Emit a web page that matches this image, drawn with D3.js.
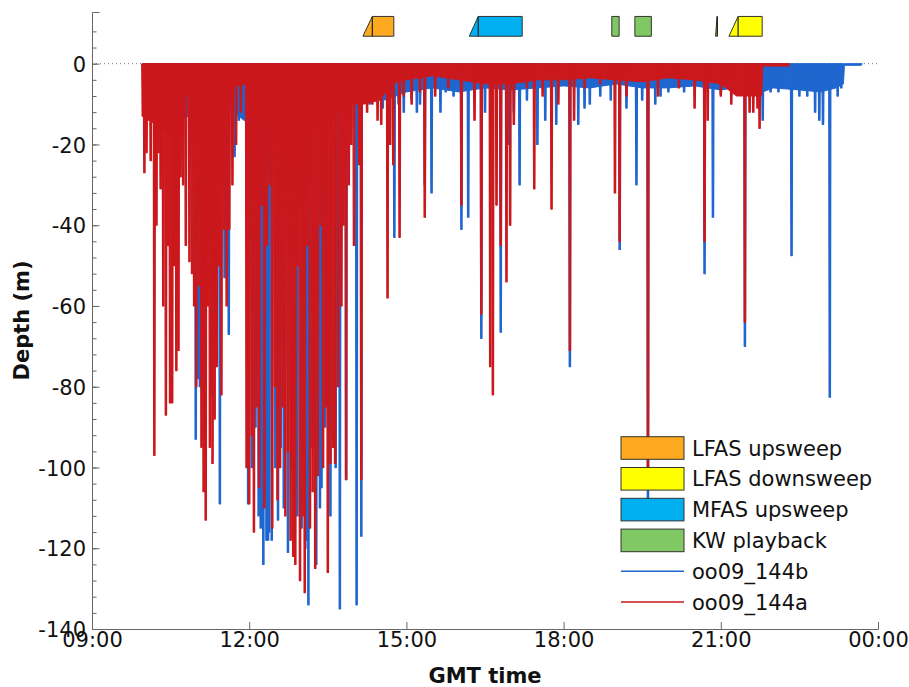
<!DOCTYPE html>
<html>
<head>
<meta charset="utf-8">
<script src="https://cdn.jsdelivr.net/npm/d3@7"></script>
<style>
  body { margin: 0; background: #fff; }
  text { font-family: "DejaVu Sans", Verdana, sans-serif; }
</style>
</head>
<body>
<div id="chart"></div>
<script>
// chart size
var svgWidth = 909;
var svgHeight = 687;
var margin = { top: 12, right: 31, bottom: 58, left: 92 };
var width = svgWidth - margin.left - margin.right;
var height = svgHeight - margin.top - margin.bottom;

// time in decimal GMT hours, depth in metres (negative = below surface)
var hourTicks = [9, 12, 15, 18, 21, 24];
var depthTicks = [-140, -120, -100, -80, -60, -40, -20, 0];

// exposures: [ramp start, full level start, end]
var lfasUp = [[14.17, 14.35, 14.76]];
var lfasDown = [[20.90, 20.93, 20.935], [21.155, 21.33, 21.79]];
var mfasUp = [[16.20, 16.37, 17.21]];
var kwPlayback = [[18.92, 18.92, 19.06], [19.36, 19.36, 19.675]];

// oo09_144b : frequent shallow diving (envelope) and single dives
var blueBand = [[9.97,-10],[10.5,-15],[11.0,-12],[11.5,-10],[11.7,-12],[12.0,-15],[13.0,-15],[13.9,-6],
  [14.1,-5],[14.3,-8],[14.6,-9],[15.0,-7],[15.5,-6],[16.0,-7],[16.5,-6],[17.0,-6.5],[17.5,-6],[18.0,-5.5],
  [18.5,-6],[19.0,-5],[19.5,-6],[20.0,-6],[20.5,-5.5],[21.0,-6.5],[21.5,-5.5],[21.8,-7],[22.0,-6],
  [22.5,-6.5],[22.9,-7],[23.2,-6],[23.34,-5],[23.36,-0.4],[23.68,-0.4],[23.7,0]];
var blueDives = [[10.98,-93],[11.03,-78],[11.06,-80],[11.14,-92],[11.28,-82],[11.44,-109],[11.53,-53],
  [11.61,-67],[11.72,-23],[11.80,-14],[11.88,-12],[11.98,-109],[12.05,-100],[12.12,-90],[12.18,-112],
  [12.22,-115],[12.27,-124],[12.31,-108],[12.33,-118],[12.36,-118],[12.38,-116],[12.43,-118],[12.50,-100],
  [12.55,-113],[12.60,-95],[12.66,-110],[12.74,-121],[12.80,-100],[12.90,-105],[12.92,-112],[13.00,-115],
  [13.07,-120],[13.10,-118],[13.13,-134],[13.20,-95],[13.28,-124],[13.35,-110],[13.38,-105],[13.45,-90],
  [13.55,-112],[13.65,-100],[13.73,-135],[13.85,-103],[13.95,-10],[14.05,-134],
  [14.14,-117],[14.2,-6],[14.3,-10],[14.4,-9],[14.55,-11],[14.77,-43],[14.85,-10],[14.95,-12],[15.1,-9],
  [15.2,-12],[15.26,-10],[15.35,-30],[15.48,-32],[15.65,-12],[15.75,-7],[15.9,-8],[16.05,-41],[16.18,-38],
  [16.3,-9],[16.43,-68],[16.5,-12],[16.8,-66.5],[16.95,-20],[17.05,-12],[17.16,-30],[17.3,-9],[17.5,-20],
  [17.65,-14],[17.86,-15],[18.12,-75],[18.28,-15],[18.4,-11],[18.5,-10],[18.7,-8],[18.9,-9],[19.07,-46],
  [19.2,-11],[19.39,-30],[19.5,-9],[19.61,-110],[19.75,-10],[19.85,-8],[20.0,-7],[20.3,-7],[20.69,-52],
  [20.85,-38],[21.0,-7.5],[21.2,-8],[21.46,-70],[21.8,-14],[21.95,-7],[22.1,-7],[22.35,-47.5],[22.5,-8],
  [22.65,-8],[22.8,-12],[22.88,-14],[22.95,-15],[23.08,-82.6],[23.23,-8],[23.3,-6]];

// oo09_144a
var redBand = [[9.96,-1],[9.97,-13],[10.1,-14],[10.3,-16],[10.6,-18],[10.7,-8],[10.84,-8],[10.86,-20],
  [10.95,-18],[11.2,-12],[11.45,-8],[11.6,-6],[11.93,-5],[11.95,-12],[12.5,-15],[13.0,-18],[13.5,-14],
  [13.8,-10],[14.2,-10],[14.5,-9],[14.72,-5],[15.0,-4],[15.5,-3],[16.0,-4],[16.5,-5],[17.0,-5],[17.5,-4],
  [18.0,-4],[18.5,-3.5],[19.0,-4],[19.5,-4.5],[20.0,-3.5],[20.5,-4],[21.0,-5],[21.3,-8],[21.5,-8],
  [21.78,-8],[21.8,-0.6],[22.3,-0.6],[22.31,0]];
var redDives = [[9.97,-13],[10.0,-27],[10.04,-22],[10.08,-14],[10.12,-24],[10.19,-97],[10.23,-40],
  [10.27,-22],[10.31,-31],[10.36,-60],[10.41,-87],[10.45,-45],[10.49,-84],[10.53,-84],[10.57,-50],
  [10.61,-76],[10.65,-71],[10.69,-28],
  [10.74,-30],[10.79,-45],[10.86,-49],[10.91,-52],[10.95,-60],[10.99,-80],[11.04,-55],[11.09,-95],
  [11.13,-106],[11.17,-113],[11.21,-60],[11.25,-95],[11.30,-99],[11.34,-88],[11.38,-75],[11.42,-50],
  [11.47,-82],[11.52,-41],[11.57,-60],[11.62,-41],[11.68,-30],[11.75,-20],[11.84,-12],
  [11.95,-100],[12.00,-109],[12.05,-92],[12.09,-116],[12.14,-85],[12.19,-105],[12.24,-35],[12.29,-110],
  [12.34,-45],[12.39,-30],[12.44,-115],[12.49,-80],[12.54,-108],[12.59,-100],[12.64,-85],[12.69,-112],
  [12.74,-96],[12.79,-118],[12.84,-122],[12.88,-124],[12.93,-50],[12.97,-128],[13.02,-112],[13.06,-131],
  [13.11,-45],[13.16,-115],[13.21,-106],[13.26,-125],[13.31,-102],[13.36,-40],[13.41,-100],[13.46,-85],
  [13.50,-126],[13.55,-99],[13.60,-95],[13.64,-99],[13.70,-80],[13.76,-60],[13.80,-40],[13.85,-103],
  [13.90,-30],[13.95,-20],[14.00,-45],[14.10,-25],[14.14,-103],[14.25,-12],[14.35,-10],[14.45,-14],
  [14.52,-15],[14.64,-58],[14.69,-20],[14.75,-25],[14.87,-43],[14.95,-8],[15.1,-10],[15.26,-7],
  [15.35,-38],[15.55,-8],[15.8,-6],[16.05,-35],[16.3,-14],[16.43,-62],[16.6,-75],[16.65,-82],[16.72,-35],
  [16.8,-45],[16.91,-54],[16.98,-40],[17.05,-15],[17.3,-6],[17.44,-31],[17.6,-8],[17.77,-36],[17.9,-10],
  [18.12,-71],[18.2,-14],[18.4,-6],[18.7,-5],[18.98,-32],[19.07,-44],[19.2,-8],[19.61,-103],[19.8,-8],
  [20.2,-6],[20.5,-11],[20.69,-44],[20.75,-14],[21.0,-8],[21.2,-10],[21.46,-64],[21.55,-12],[21.62,-12],
  [21.7,-11],[21.74,-16]];

var blueColor = "#1f66cf";
var redColor = "#cb181d";
var exposureStyles = [
  { name: "LFAS upsweep", color: "#fdaa20", data: lfasUp },
  { name: "LFAS downsweep", color: "#ffff00", data: lfasDown },
  { name: "MFAS upsweep", color: "#00b0f0", data: mfasUp },
  { name: "KW playback", color: "#7fc863", data: kwPlayback }
];

var svg = d3.select("#chart")
  .append("svg")
  .attr("width", svgWidth)
  .attr("height", svgHeight);

var chartGroup = svg.append("g")
  .attr("transform", `translate(${margin.left}, ${margin.top})`);

var x = d3.scaleLinear().domain([9, 24]).range([0, width]);
var y = d3.scaleLinear().domain([-140, 12.8]).range([height, 0]);

// surface reference line
chartGroup.append("line")
  .attr("x1", 0).attr("x2", width)
  .attr("y1", y(0)).attr("y2", y(0))
  .attr("stroke", "#777")
  .attr("stroke-width", 1)
  .attr("stroke-dasharray", "1,3");

// draws one animal: shallow envelope as area, then each dive as a narrow spike
function drawTag(band, dives, color) {
  var area = d3.area()
    .x(d => x(d[0]))
    .y0(y(0))
    .y1(d => y(d[1]));
  chartGroup.append("path")
    .attr("d", area(band))
    .attr("fill", color)
    .attr("stroke", color)
    .attr("stroke-width", 1);

  var half = 0.02, bottom = 0.012;
  var line = d3.line().x(d => x(d[0])).y(d => y(d[1]));
  chartGroup.append("g").selectAll("path")
    .data(dives)
    .enter()
    .append("path")
    .attr("d", d => line([[d[0] - half, 0], [d[0] - bottom, d[1]], [d[0] + bottom, d[1]], [d[0] + half, 0]]))
    .attr("fill", color)
    .attr("stroke", color)
    .attr("stroke-width", 1.3)
    .attr("stroke-linejoin", "round");
}

drawTag(blueBand, blueDives, blueColor);
drawTag(redBand, redDives, redColor);

// exposure blocks above the surface
var blockTop = y(11.7), blockBottom = y(6.8);
exposureStyles.forEach(function(ex) {
  var g = chartGroup.append("g");
  ex.data.forEach(function(e) {
    var pts = [[x(e[0]), blockBottom], [x(e[1]), blockTop], [x(e[2]), blockTop], [x(e[2]), blockBottom]];
    g.append("polygon")
      .attr("points", pts.map(p => p.join(",")).join(" "))
      .attr("fill", ex.color)
      .attr("stroke", "#333")
      .attr("stroke-width", 1);
    if (e[1] > e[0]) {
      g.append("line")
        .attr("x1", x(e[1])).attr("x2", x(e[1]))
        .attr("y1", blockTop).attr("y2", blockBottom)
        .attr("stroke", "#222")
        .attr("stroke-width", 1.2);
    }
  });
});

// axes
var bottomAxis = d3.axisBottom(x)
  .tickValues(hourTicks)
  .tickSize(-7)
  .tickPadding(3)
  .tickFormat(h => String(h % 24).padStart(2, "0") + ":00");

var xAxis = chartGroup.append("g")
  .attr("transform", `translate(0, ${height})`)
  .call(bottomAxis);

var minorTicks = d3.range(-140, 12, 4);
chartGroup.append("g")
  .call(d3.axisLeft(y).tickValues(minorTicks).tickSize(-4.5).tickFormat(""))
  .call(g => g.select(".domain").remove());

var yAxis = chartGroup.append("g")
  .call(d3.axisLeft(y).tickValues(depthTicks).tickSize(-7.5).tickPadding(6).tickFormat(d => String(d)));

chartGroup.selectAll(".domain, .tick line")
  .attr("stroke", "#666");
chartGroup.selectAll(".tick text")
  .attr("fill", "#111")
  .style("font-size", "21px");
yAxis.selectAll(".tick text").attr("dy", "0.36em");

// axis titles
chartGroup.append("text")
  .attr("x", width / 2)
  .attr("y", height + 54)
  .attr("text-anchor", "middle")
  .style("font-size", "21px")
  .style("font-weight", "bold")
  .attr("fill", "#111")
  .text("GMT time");

chartGroup.append("text")
  .attr("transform", `translate(${-margin.left + 28.5}, ${height / 2}) rotate(-90)`)
  .attr("text-anchor", "middle")
  .style("font-size", "21px")
  .style("font-weight", "bold")
  .attr("fill", "#111")
  .text("Depth (m)");

// legend
var legendItems = exposureStyles.map(e => ({ name: e.name, color: e.color, patch: true }))
  .concat([{ name: "oo09_144b", color: blueColor, patch: false },
           { name: "oo09_144a", color: redColor, patch: false }]);

var legend = svg.append("g")
  .attr("transform", "translate(621, 448)");

var rows = legend.selectAll("g")
  .data(legendItems)
  .enter()
  .append("g")
  .attr("transform", (d, i) => `translate(0, ${i * 30.8})`);

rows.filter(d => d.patch).append("rect")
  .attr("x", 0).attr("y", -11.3)
  .attr("width", 63).attr("height", 22.6)
  .attr("fill", d => d.color)
  .attr("stroke", "#333")
  .attr("stroke-width", 1);

rows.filter(d => !d.patch).append("line")
  .attr("x1", 0).attr("x2", 63)
  .attr("stroke", d => d.color)
  .attr("stroke-width", 1.6);

rows.append("text")
  .attr("x", 71)
  .attr("dy", "0.36em")
  .style("font-size", "21px")
  .attr("fill", "#111")
  .text(d => d.name);
</script>
</body>
</html>
